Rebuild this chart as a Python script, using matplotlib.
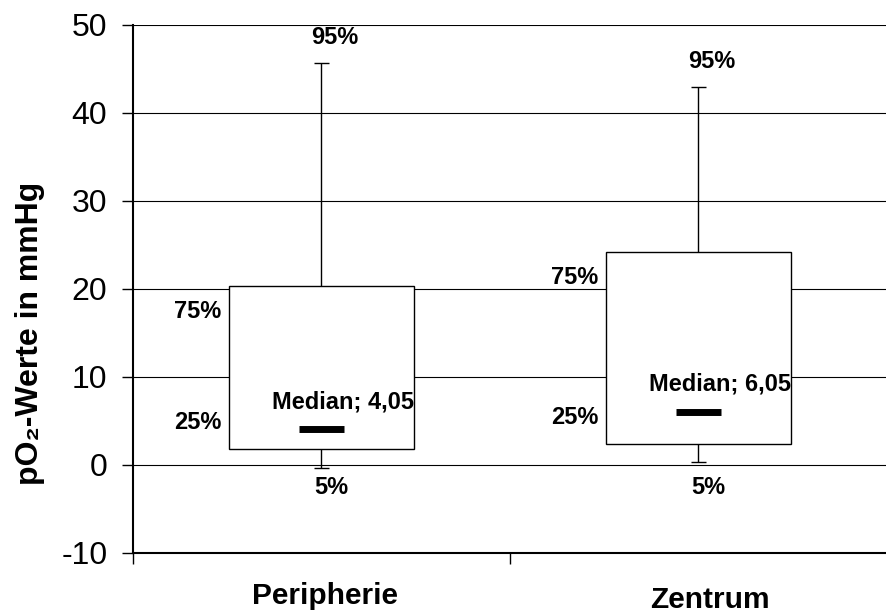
import numpy as np
import matplotlib.pyplot as plt

plt.rcParams['font.family'] = ['Liberation Sans', 'DejaVu Sans']
plt.rcParams['axes.unicode_minus'] = False

# Perzentile der pO2-Werte (mmHg)
kategorien = ['Peripherie', 'Zentrum']
p05 = [-0.3, 0.3]
p25 = [1.8, 2.35]
median = [4.05, 6.05]
p75 = [20.3, 24.15]
p95 = [45.7, 42.9]
median_text = ['4,05', '6,05']

pos = np.arange(1, len(kategorien) + 1)
breite = 0.49
kappe = 0.042

fig = plt.figure(figsize=(8.87, 6.15), dpi=100)
ax = fig.add_axes([133/887, 1 - 553/615, 1 - 133/887, (553 - 25)/615])

# Boxen
hoehe = np.array(p75) - np.array(p25)
ax.bar(pos, hoehe, bottom=p25, width=breite, color='white',
       edgecolor='black', linewidth=1.0, zorder=3)

# Whisker oben / unten
ax.vlines(pos, p75, p95, color='black', linewidth=1.0, zorder=2)
ax.vlines(pos, p05, p25, color='black', linewidth=1.0, zorder=2)
ax.hlines(p95, pos - kappe/2, pos + kappe/2, color='black', linewidth=1.0, zorder=2)
ax.hlines(p05, pos - kappe/2, pos + kappe/2, color='black', linewidth=1.0, zorder=4)

# Median als dicker Balken
ax.hlines(median, pos - 0.06, pos + 0.06, color='black', linewidth=5, zorder=4)

# Beschriftungen
fs = 17
for i, x in enumerate(pos):
    links = x - breite/2
    ax.text(x + 0.035, p95[i] + 2.9, '95%', ha='center', va='center',
            fontsize=fs, fontweight='bold')
    ax.text(links - 0.02, p75[i] - 2.9, '75%', ha='right', va='center',
            fontsize=fs, fontweight='bold')
    ax.text(links - 0.02, p25[i] + 3.0, '25%', ha='right', va='center',
            fontsize=fs, fontweight='bold')
    ax.text(x - 0.13, median[i] + 3.15, 'Median; ' + median_text[i],
            ha='left', va='center', fontsize=fs, fontweight='bold')
    ax.text(x + 0.025, -2.5, '5%', ha='center', va='center',
            fontsize=fs, fontweight='bold')

# Achsen
ax.set_ylim(-10, 50)
ax.set_yticks(range(-10, 51, 10))
ax.tick_params(axis='y', labelsize=23, length=8, width=1.0, pad=10.5,
               direction='out')
ax.yaxis.grid(True, color='black', linewidth=0.8)
ax.set_axisbelow(True)

ax.set_xlim(0.5, 0.5 + 754/384)
ax.set_xticks([0.5, 1.5, 2.5])
ax.set_xticklabels([])
ax.tick_params(axis='x', which='major', length=8, width=1.0, direction='out')

# Kategorienamen (unten bündig wie im Original)
kat_x = pos + np.array([0.01, 0.03])
kat_y = [-0.096, -0.104]
for i, name in enumerate(kategorien):
    ax.text(kat_x[i], kat_y[i], name, transform=ax.get_xaxis_transform(),
            ha='center', va='baseline', fontsize=21.5, fontweight='bold')

for s in ['top', 'right']:
    ax.spines[s].set_visible(False)
for s in ['left', 'bottom']:
    ax.spines[s].set_linewidth(1.5)

fig.text(30/887, 1 - 333/615, 'pO\u2082-Werte in mmHg', rotation=90,
         ha='center', va='center', fontsize=23, fontweight='bold')

fig.savefig('out.png', dpi=100)
